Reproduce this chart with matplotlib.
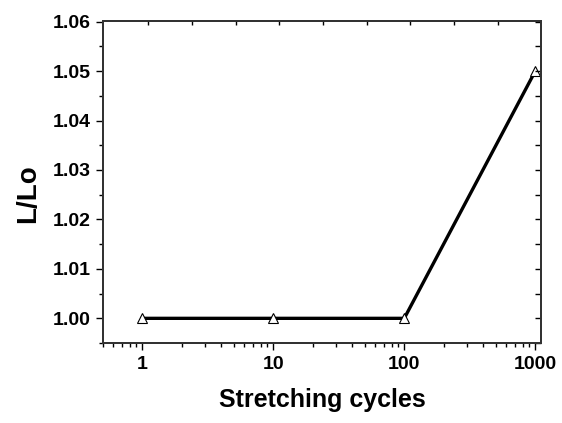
import numpy as np
import matplotlib
matplotlib.use('Agg')
import matplotlib.pyplot as plt
from matplotlib.ticker import MultipleLocator, FixedLocator, NullFormatter

cycles = [1, 10, 100, 1000]
ratio = [1.000, 1.000, 1.000, 1.050]
x_ticks = [1, 10, 100, 1000]
x_tick_labels = ['1', '10', '100', '1000']

plt.rcParams['font.family'] = ['Liberation Sans', 'DejaVu Sans']
plt.rcParams['font.weight'] = 'bold'

fig = plt.figure(figsize=(5.62, 4.23), dpi=100)
ax = fig.add_axes([0.183, 0.189, 0.780, 0.761])

ax.plot(cycles, ratio, '-', color='black', linewidth=2.4, zorder=2)
ax.plot(cycles, ratio, '^', markerfacecolor='white', markeredgecolor='black',
        markersize=7, markeredgewidth=0.8, linestyle='none', zorder=3, clip_on=False)

ax.set_xscale('log')
ax.set_xlim(0.5, 1110)
ax.set_ylim(0.995, 1.0601)
ax.set_xticks(x_ticks)
ax.set_xticklabels(x_tick_labels)
ax.yaxis.set_major_locator(MultipleLocator(0.01))
ax.yaxis.set_minor_locator(MultipleLocator(0.005))
ax.yaxis.set_major_formatter(plt.FuncFormatter(lambda v, p: '%.2f' % v))

for lbl in ax.get_xticklabels() + ax.get_yticklabels():
    lbl.set_fontsize(14)
    lbl.set_fontweight('bold')

ax.tick_params(axis='both', which='major', direction='out', length=5, width=1, pad=4)
ax.tick_params(axis='both', which='minor', direction='out', length=3, width=1)

# right axis ticks inward
ax_r = ax.twinx()
ax_r.set_ylim(ax.get_ylim())
ax_r.yaxis.set_major_locator(MultipleLocator(0.01))
ax_r.yaxis.set_minor_locator(MultipleLocator(0.005))
ax_r.yaxis.set_major_formatter(NullFormatter())
ax_r.tick_params(axis='y', which='both', direction='in', length=4, width=1)

# top axis ticks inward
ax_t = ax.twiny()
ax_t.set_xscale('log')
ax_t.set_xlim(ax.get_xlim())
top_pos = 10 ** np.arange(0.046, 3.1, 1 / 3)
ax_t.xaxis.set_major_locator(FixedLocator(top_pos))
ax_t.xaxis.set_minor_locator(FixedLocator([]))
ax_t.xaxis.set_major_formatter(NullFormatter())
ax_t.tick_params(axis='x', which='both', direction='in', length=3, width=1)

for a in (ax, ax_r, ax_t):
    for s in a.spines.values():
        s.set_linewidth(1.2)
        s.set_color('#333333')

ax.set_xlabel('Stretching cycles', fontsize=18, fontweight='bold', labelpad=11)
ax.set_ylabel('L/Lo', fontsize=20, fontweight='bold')
ax.yaxis.set_label_coords(-0.14, 0.464)

fig.savefig('out.png', dpi=100)
